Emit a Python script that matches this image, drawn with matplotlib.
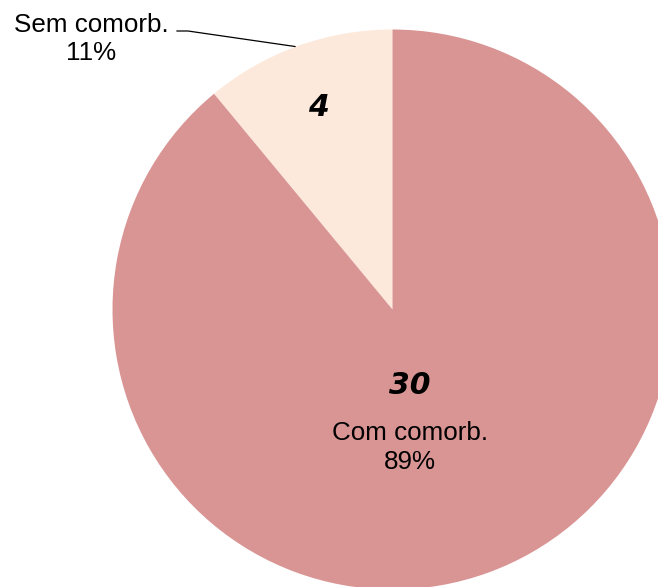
import matplotlib
matplotlib.use("Agg")
import matplotlib.pyplot as plt

# -- data ---------------------------------------------------------------------
categories = ["Sem comorb.", "Com comorb."]
counts     = [4, 30]
percents   = [11, 89]          # shares as printed on the chart
colours    = ["#FCE9DB", "#D99594"]

# -- figure in pixel-like coordinates -----------------------------------------
W, H = 658, 587
fig = plt.figure(figsize=(W / 100, H / 100), dpi=100)
ax = fig.add_axes([0, 0, 1, 1])

cx, cy, r = 392.5, H - 309.5, 280
ax.pie(percents, colors=colours, startangle=90, counterclock=True,
       center=(cx, cy), radius=r, frame=True,
       wedgeprops=dict(linewidth=0))
ax.set_xlim(0, W)
ax.set_ylim(0, H)
ax.set_aspect("equal")
ax.axis("off")

# counts (bold italic)
num_font = dict(family="DejaVu Sans", fontsize=21.5, fontweight="bold",
                fontstyle="italic", ha="center", va="center")
ax.text(318, H - 107, str(counts[0]), **num_font)
ax.text(410, H - 386, str(counts[1]), **num_font)

# category labels
lab_font = dict(family="Liberation Sans", fontsize=18.7, ha="center", va="center")
ax.text(410, H - 433, categories[1], **lab_font)
ax.text(410, H - 462, f"{percents[1]}%", **lab_font)
ax.text(91, H - 25, categories[0], **lab_font)
ax.text(91, H - 53, f"{percents[0]}%", **lab_font)

# leader line for the small slice
ax.plot([177, 188, 295], [H - 31, H - 31, H - 46.5], color="black", lw=0.9)

fig.savefig("out.png", dpi=100)
plt.close(fig)
